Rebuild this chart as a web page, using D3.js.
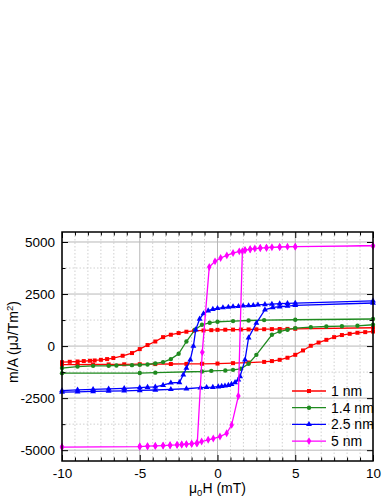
<!DOCTYPE html>
<html>
<head>
<meta charset="utf-8">
<script src="https://cdn.jsdelivr.net/npm/d3@7"></script>
<style>
  html, body { margin: 0; padding: 0; background: #fff; }
  svg { display: block; font-family: "Liberation Sans", Arial, sans-serif; }
</style>
</head>
<body>
<svg id="chart" width="388" height="502"></svg>
<script>
// field values (mT) and m/A values
// each loop: descending branch (+10 -> -10) then ascending branch (-10 -> +10)
const redDownH = [10, 5, 4.5, 4, 3.5, 3, 2.5, 2, 1.5, 1, 0.5, 0, -0.4, -0.9, -1.5, -2, -2.5, -3, -3.5, -4, -4.5, -5, -5.5, -6.1, -6.7, -7.1, -7.5, -7.9, -8.2, -8.6, -9, -9.5, -10];
const redDownM = [880, 830, 825, 820, 815, 810, 805, 800, 795, 790, 785, 780, 765, 750, 735, 690, 625, 545, 430, 220, 50, -145, -335, -465, -575, -625, -660, -690, -705, -720, -740, -755, -775];
const redUpH = [-10, -9, -8, -7, -6, -5, -4, -3, -2, -1, 0, 1, 2, 3, 3.5, 4, 4.5, 5, 5.5, 6, 6.5, 7, 7.5, 8, 8.5, 9, 9.5, 10];
const redUpM = [-895, -890, -885, -880, -875, -870, -865, -860, -855, -850, -840, -820, -790, -760, -720, -660, -560, -420, -210, 15, 170, 300, 430, 530, 590, 640, 670, 700];

const greenDownH = [10, 5, 3, 2, 1, 0, -0.5, -1, -1.45, -2, -2.5, -3, -3.5, -4, -4.5, -5, -5.5, -6.5, -7, -8, -9, -10];
const greenDownM = [1300, 1265, 1250, 1230, 1200, 1170, 1120, 1025, 785, 220, -370, -625, -770, -835, -885, -900, -915, -930, -945, -950, -985, -1055];
const greenUpH = [-10, -5, -4, -1, -0.4, 0.5, 1, 1.5, 2, 2.5, 3.5, 4, 4.5, 5, 6, 7, 8, 9, 10];
const greenUpM = [-1300, -1295, -1275, -1220, -1190, -1170, -1140, -1090, -850, -420, 545, 700, 785, 865, 910, 940, 955, 975, 1025];

const blueDownH = [10, 5, 4.5, 4, 3.5, 3.05, 2.6, 2.3, 2, 1.65, 1.35, 1, 0.7, 0.35, 0, -0.3, -0.6, -0.9, -1.15, -1.4, -1.55, -1.75, -2, -2.2, -2.45, -3, -3.5, -4, -4.5, -5, -6, -7, -8, -9, -10];
const blueDownM = [2170, 2065, 2050, 2035, 2015, 2000, 1980, 1960, 1945, 1930, 1910, 1895, 1875, 1850, 1810, 1770, 1700, 1560, 1300, 785, 0, -660, -1060, -1380, -1750, -1765, -1880, -1955, -1975, -1995, -2030, -2055, -2080, -2105, -2135];
const blueUpH = [-10, -9, -8, -7, -6, -5, -4, -3, -2, -1.1, -0.7, -0.3, 0.05, 0.27, 0.48, 0.7, 0.9, 1.13, 1.34, 1.45, 1.77, 2, 2.5, 3.05, 3.55, 4, 4.5, 5, 10];
const blueUpM = [-2210, -2195, -2180, -2165, -2150, -2130, -2110, -2080, -2050, -2000, -1985, -1975, -1950, -1930, -1910, -1880, -1830, -1750, -1620, -1460, -660, 400, 1105, 1745, 1855, 1890, 1920, 1955, 2070];

const magentaDownH = [10, 5, 4.5, 4, 3.5, 3.15, 2.75, 2.4, 2.1, 1.77, 1.4, 1, 0.6, 0.2, -0.16, -0.53, -0.98, -1.3, -1.66, -2, -2.3, -2.6, -3.05, -3.5, -4, -4.5, -5, -10];
const magentaDownM = [4820, 4775, 4775, 4760, 4745, 4725, 4710, 4690, 4650, 4610, 4550, 4470, 4355, 4230, 4070, 3800, -300, -4660, -4690, -4710, -4730, -4745, -4760, -4780, -4795, -4810, -4825, -4850];
const magentaUpH = [-10, -5, -4.5, -4, -3.5, -3.05, -2.6, -2.3, -2, -1.66, -1.34, -1.02, -0.6, -0.27, 0.16, 0.59, 0.91, 1.34, 1.6, 1.77, 2.1, 2.75, 3.15, 4, 5, 10];
const magentaUpM = [-4850, -4825, -4810, -4795, -4780, -4760, -4745, -4730, -4710, -4690, -4665, -4585, -4500, -4440, -4345, -4190, -3785, -2400, 4560, 4610, 4650, 4710, 4725, 4760, 4775, 4810];

const seriesNames = ["1 nm", "1.4 nm", "2.5 nm", "5 nm"];
const xTicks = [-10, -5, 0, 5, 10];
const yTicks = [-5000, -2500, 0, 2500, 5000];

const series = [
  { name: seriesNames[0], color: "#ff0000", symbol: d3.symbolSquare, size: 16,
    h: redDownH.concat(redUpH), m: redDownM.concat(redUpM) },
  { name: seriesNames[1], color: "#1f8a1f", symbol: d3.symbolCircle, size: 15,
    h: greenDownH.concat(greenUpH), m: greenDownM.concat(greenUpM) },
  { name: seriesNames[2], color: "#0000ff", symbol: d3.symbolTriangle, size: 15,
    h: blueDownH.concat(blueUpH), m: blueDownM.concat(blueUpM) },
  { name: seriesNames[3], color: "#ff00ff", symbol: d3.symbolDiamond, size: 18,
    h: magentaDownH.concat(magentaUpH), m: magentaDownM.concat(magentaUpM) }
];

const svg = d3.select("#chart");
const margin = { top: 232, right: 15, bottom: 41, left: 62 };
const width = 388, height = 502;
const plotW = width - margin.left - margin.right;
const plotH = height - margin.top - margin.bottom;

const x = d3.scaleLinear().domain([-10, 10]).range([margin.left, margin.left + plotW]);
const y = d3.scaleLinear().domain([-5520, 5480]).range([margin.top + plotH, margin.top]);

// minor steps: 5 minor ticks between x majors, 1 between y majors
const xMinor = d3.range(-10, 10.001, 5 / 6).filter(v => Math.abs(v / 5 - Math.round(v / 5)) > 1e-6);
const yMinor = d3.range(-5000, 5001, 1250).filter(v => v % 2500 !== 0);

// grid
const grid = svg.append("g");
grid.selectAll(".vminor").data(xMinor).join("line")
  .attr("x1", d => x(d)).attr("x2", d => x(d))
  .attr("y1", margin.top).attr("y2", margin.top + plotH)
  .attr("stroke", "#d0d0d0").attr("stroke-dasharray", "1.5,2");
grid.selectAll(".hminor").data(yMinor).join("line")
  .attr("x1", margin.left).attr("x2", margin.left + plotW)
  .attr("y1", d => y(d)).attr("y2", d => y(d))
  .attr("stroke", "#d0d0d0").attr("stroke-dasharray", "1.5,2");
grid.selectAll(".vmajor").data(xTicks).join("line")
  .attr("x1", d => x(d)).attr("x2", d => x(d))
  .attr("y1", margin.top).attr("y2", margin.top + plotH)
  .attr("stroke", "#b8b8b8").attr("stroke-width", 1);
grid.selectAll(".hmajor").data(yTicks).join("line")
  .attr("x1", margin.left).attr("x2", margin.left + plotW)
  .attr("y1", d => y(d)).attr("y2", d => y(d))
  .attr("stroke", "#b8b8b8").attr("stroke-width", 1);

// data
const line = d3.line().x(d => x(d[0])).y(d => y(d[1]));
for (const s of series) {
  const pts = s.h.map((h, i) => [h, s.m[i]]);
  svg.append("path")
    .attr("d", line(pts))
    .attr("fill", "none")
    .attr("stroke", s.color)
    .attr("stroke-width", 1.3);
  svg.append("g").selectAll("path").data(pts).join("path")
    .attr("transform", d => `translate(${x(d[0])},${y(d[1])})`)
    .attr("d", d3.symbol(s.symbol, s.size))
    .attr("fill", s.color);
}

// axes with inward ticks on all four sides
function styleAxis(g) {
  g.select(".domain").remove();
  g.selectAll("line").attr("stroke", "#000").attr("stroke-width", 1);
  g.selectAll("text").attr("font-size", 13.5).attr("fill", "#000")
    .attr("font-family", "'Liberation Sans', Arial, sans-serif");
}
const fmt = d => d3.format("d")(d).replace("−", "-");

svg.append("g").attr("transform", `translate(0,${margin.top + plotH})`)
  .call(d3.axisBottom(x).tickValues(xTicks).tickSizeInner(-6).tickSizeOuter(0).tickPadding(7).tickFormat(fmt))
  .call(styleAxis);
svg.append("g").attr("transform", `translate(0,${margin.top + plotH})`)
  .call(d3.axisBottom(x).tickValues(xMinor).tickSize(-3.5).tickFormat(""))
  .call(styleAxis);
svg.append("g").attr("transform", `translate(0,${margin.top})`)
  .call(d3.axisTop(x).tickValues(xTicks).tickSize(-6).tickFormat(""))
  .call(styleAxis);
svg.append("g").attr("transform", `translate(0,${margin.top})`)
  .call(d3.axisTop(x).tickValues(xMinor).tickSize(-3.5).tickFormat(""))
  .call(styleAxis);

svg.append("g").attr("transform", `translate(${margin.left},0)`)
  .call(d3.axisLeft(y).tickValues(yTicks).tickSizeInner(-6).tickSizeOuter(0).tickPadding(7).tickFormat(fmt))
  .call(styleAxis);
svg.append("g").attr("transform", `translate(${margin.left},0)`)
  .call(d3.axisLeft(y).tickValues(yMinor).tickSize(-3.5).tickFormat(""))
  .call(styleAxis);
svg.append("g").attr("transform", `translate(${margin.left + plotW},0)`)
  .call(d3.axisRight(y).tickValues(yTicks).tickSize(-6).tickFormat(""))
  .call(styleAxis);
svg.append("g").attr("transform", `translate(${margin.left + plotW},0)`)
  .call(d3.axisRight(y).tickValues(yMinor).tickSize(-3.5).tickFormat(""))
  .call(styleAxis);

// frame
svg.append("rect")
  .attr("x", margin.left).attr("y", margin.top)
  .attr("width", plotW).attr("height", plotH)
  .attr("fill", "none").attr("stroke", "#000").attr("stroke-width", 1.5);

// legend
const legend = svg.append("g");
series.forEach((s, i) => {
  const ly = 391 + i * 16.7;
  legend.append("line")
    .attr("x1", 292).attr("x2", 326).attr("y1", ly).attr("y2", ly)
    .attr("stroke", s.color).attr("stroke-width", 1.3);
  legend.append("path")
    .attr("transform", `translate(309,${ly})`)
    .attr("d", d3.symbol(s.symbol, s.size))
    .attr("fill", s.color);
  legend.append("text")
    .attr("x", 331).attr("y", ly + 5)
    .attr("font-size", 14)
    .text(s.name);
});

// axis titles
const xt = svg.append("text")
  .attr("x", margin.left + plotW / 2).attr("y", 493)
  .attr("text-anchor", "middle").attr("font-size", 14);
xt.append("tspan").text("μ");
xt.append("tspan").attr("font-size", 9.5).attr("dy", 3).text("0");
xt.append("tspan").attr("dy", -3).text("H (mT)");

const yt = svg.append("text")
  .attr("transform", `translate(18,342) rotate(-90)`)
  .attr("text-anchor", "middle").attr("font-size", 14);
yt.append("tspan").text("m/A (μJ/Tm");
yt.append("tspan").attr("font-size", 9.5).attr("dy", -5).text("2");
yt.append("tspan").attr("dy", 5).text(")");
</script>
</body>
</html>
